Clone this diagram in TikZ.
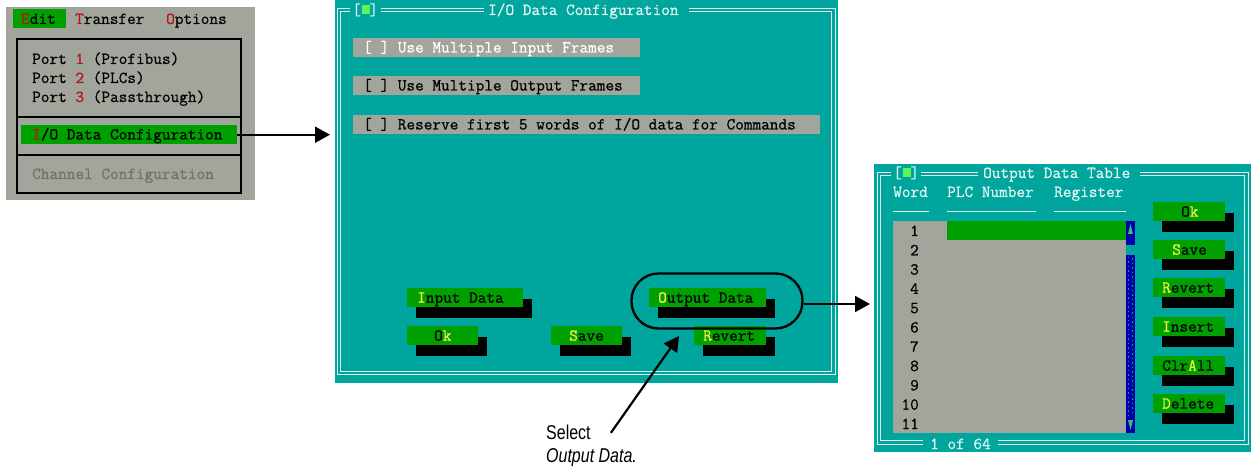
\documentclass[tikz,border=0pt]{standalone}
\usepackage{fontspec}
\usetikzlibrary{arrows.meta}
\setmonofont[FakeBold=0.7]{Latin Modern Mono}
\newfontfamily\capfont[FakeStretch=0.8]{Liberation Sans}
\newcommand\dosfont{\ttfamily\fontsize{16.8}{18}\selectfont}
\definecolor{dosteal}{RGB}{0,166,157}
\definecolor{dosgray}{RGB}{161,165,155}
\definecolor{dosgreen}{RGB}{0,160,0}
\definecolor{dosyellow}{RGB}{240,240,70}
\definecolor{dosred}{RGB}{185,20,20}
\definecolor{dosblue}{RGB}{0,0,170}
\definecolor{dosline}{RGB}{225,245,242}
\definecolor{dosdim}{RGB}{110,114,106}
\definecolor{dossq}{RGB}{90,245,90}
\newcommand\hk[1]{\textcolor{dosyellow}{#1}}
\newcommand\rk[1]{\textcolor{dosred}{#1}}
% name, x, y, width, text x, label
\newcommand\dosbutton[6]{%
  \fill[black] (#2+9,#3+11) rectangle (#2+#4+9,#3+30);
  \node[btn, minimum width=#4pt] (#1) at (#2,#3) {};
  \node[dos] (#1-t) at (#5,#3+14.7) {#6};
}
\begin{document}
\begin{tikzpicture}[x=1pt,y=-1pt,
  dos/.style={font=\dosfont, inner sep=0pt, anchor=base west},
  panel/.style={inner sep=0pt, anchor=north west},
  btn/.style={fill=dosgreen, minimum height=19pt, inner sep=0pt, anchor=north west},
  bar/.style={fill=dosgray, minimum height=19pt, inner sep=0pt, anchor=north west},
  dl/.style={draw=dosline, line width=0.9pt},
  arr/.style={line width=2pt, -{Triangle[length=15pt,width=16pt]}},
  caption/.style={font=\capfont\fontsize{20}{22}\selectfont, inner sep=0pt, anchor=base west},
]
\useasboundingbox (0,0) rectangle (1253,470);
\fill[white] (0,0) rectangle (1253,470);

% ---------- menu panel
\node[panel, fill=dosgray, minimum width=249pt, minimum height=193pt] (menu) at (6,7) {};
\node[btn, minimum width=53pt] (editbar) at (13,9) {};
\node[dos] (edit) at (21,24) {\rk{E}dit};
\node[dos] (transfer) at (75,24) {\rk{T}ransfer};
\node[dos] (options) at (166,24) {\rk{O}ptions};
\draw[line width=1.2pt] (17,39) rectangle (241,193);
\draw[line width=1.2pt] (17,117) -- (241,117);
\draw[line width=1.2pt] (17,155) -- (241,155);
\node[dos] (p1) at (32,64) {Port \rk{1} (Profibus)};
\node[dos] (p2) at (32,83) {Port \rk{2} (PLCs)};
\node[dos] (p3) at (32,102) {Port \rk{3} (Passthrough)};
\node[btn, minimum width=216pt] (iobar) at (21,125) {};
\node[dos] (io) at (32,139.5) {\rk{I}/O Data Configuration};
\node[dos, text=dosdim] (chan) at (32,179) {Channel Configuration};

% ---------- middle window
\node[panel, fill=dosteal, minimum width=503pt, minimum height=383pt] (midwin) at (335,0) {};
\draw[dl] (337,8) rectangle (835,374.5);
\draw[dl] (340.5,11.5) rectangle (831.5,371);
\fill[dosteal] (350,3) rectangle (381,16);
\fill[dosteal] (484,3) rectangle (689,16);
\node[dos, text=dosline] (mbr) at (352,15) {[ ]};
\fill[dossq] (362,5) rectangle (370,14);
\node[dos, text=dosline] (mtitle) at (488,15) {I/O Data Configuration};

\node[bar, minimum width=287pt] (cb1) at (353,38) {};
\node[dos, text=white] (cb1-t) at (363,52.5) {[ ] Use Multiple Input Frames};
\node[bar, minimum width=287pt] (cb2) at (353,76) {};
\node[dos] (cb2-t) at (363,90.5) {[ ] Use Multiple Output Frames};
\node[bar, minimum width=467pt] (cb3) at (353,115) {};
\node[dos] (cb3-t) at (363,129.5) {[ ] Reserve first 5 words of I/O data for Commands};

\dosbutton{bin}{407}{288}{116}{417}{\hk{I}nput Data}
\dosbutton{bok}{407}{326}{71}{434}{O\hk{k}}
\dosbutton{bsave}{551}{326}{71}{569}{\hk{S}ave}
\dosbutton{bout}{649}{288}{117}{658}{\hk{O}utput Data}
\dosbutton{brev}{694}{326}{72}{703}{\hk{R}evert}

\node[draw, line width=2.3pt, rounded corners=27pt, minimum width=171pt,
      minimum height=55pt, inner sep=0pt] (stadium) at (717,301) {};

% ---------- right window
\node[panel, fill=dosteal, minimum width=377pt, minimum height=288pt] (rightwin) at (874,164) {};
\draw[dl] (877,172) rectangle (1248,444);
\draw[dl] (880.5,175.5) rectangle (1244.5,440.5);
\fill[dosteal] (891,166) rectangle (921,180);
\fill[dosteal] (978,166) rectangle (1140,180);
\fill[dosteal] (923,437) rectangle (998,451);
\node[dos, text=dosline] (rbr) at (893,178) {[ ]};
\fill[dossq] (903,168) rectangle (911,177);
\node[dos, text=dosline] (rtitle) at (983,178) {Output Data Table};
\node[dos, text=dosline] (hword) at (893,197) {Word};
\node[dos, text=dosline] (hplc) at (947,197) {PLC Number};
\node[dos, text=dosline] (hreg) at (1054,197) {Register};
\draw[dosline, line width=1pt] (893,212) -- (929,212);
\draw[dosline, line width=1pt] (947,212) -- (1036,212);
\draw[dosline, line width=1pt] (1054,212) -- (1126,212);
\fill[dosgray] (893,221) rectangle (1126,433);
\fill[dosgreen] (947,221) rectangle (1126,240);
\foreach \i in {1,...,11}
  \node[font=\dosfont, inner sep=0pt, anchor=base east] (n\i) at (919,{236+19.3*(\i-1)}) {\i};
% scrollbar
\fill[dosblue] (1126,221) rectangle (1135,433);
\fill[dosteal] (1126,245) rectangle (1135,255);
\fill[dossq!40!dosteal] (1128,234) -- (1133,234) -- (1130.5,224) -- cycle;
\fill[dossq!40!dosteal] (1128,420) -- (1133,420) -- (1130.5,430) -- cycle;
\draw[dosteal, line width=1.4pt, dash pattern=on 1.5pt off 3pt] (1128.5,257) -- (1128.5,416);
\draw[dosteal, line width=1.4pt, dash pattern=on 1.5pt off 3pt] (1132.5,258.5) -- (1132.5,416);
\node[dos, text=dosline] (rcount) at (930,449) {1 of 64};

\dosbutton{rok}{1153}{202}{72}{1181}{O\hk{k}}
\dosbutton{rsave}{1153}{240}{72}{1172}{\hk{S}ave}
\dosbutton{rrev}{1153}{278}{72}{1162}{\hk{R}evert}
\dosbutton{rins}{1153}{317}{72}{1162}{\hk{I}nsert}
\dosbutton{rclr}{1153}{356}{72}{1162}{Clr\hk{A}ll}
\dosbutton{rdel}{1153}{394}{72}{1162}{\hk{D}elete}

% ---------- caption
\node[caption] (sel1) at (546,439) {Select};
\node[caption, font=\capfont\itshape\fontsize{20}{22}\selectfont] (sel2) at (546,462) {Output Data.};
\coordinate (seltip) at (679,336);

% ---------- connectors
\draw[arr, shorten >=5pt] (iobar.east) -- (midwin.west |- iobar.east);
\coordinate (a2) at ([yshift=-3pt]stadium.east);
\draw[arr, shorten >=4pt] (a2) -- (a2 -| rightwin.west);
\draw[arr, line width=2.2pt] ([xshift=20pt,yshift=-1pt]sel1.east) -- (seltip);
\end{tikzpicture}
\end{document}
